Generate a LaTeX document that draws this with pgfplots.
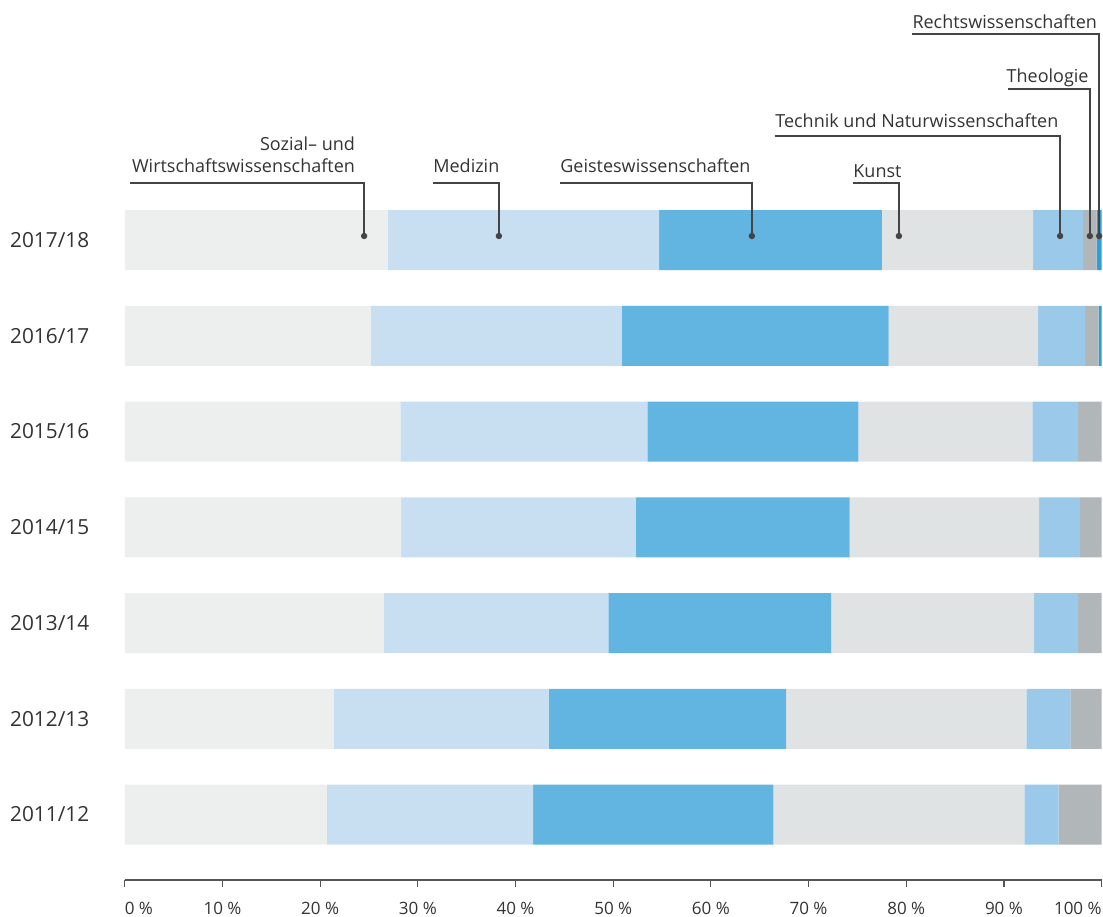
\documentclass[border=0pt]{standalone}
\usepackage{fontspec}
\setmainfont{Open Sans}
\usepackage{pgfplots}
\pgfplotsset{compat=1.18}
\usepackage{pgfplotstable}

\definecolor{cSoz}{HTML}{EDEFEE}
\definecolor{cMed}{HTML}{C8DFF2}
\definecolor{cGei}{HTML}{62B4E1}
\definecolor{cKun}{HTML}{DFE3E4}
\definecolor{cTec}{HTML}{9AC9EA}
\definecolor{cThe}{HTML}{B1B6B9}
\definecolor{cRec}{HTML}{2A9FD8}
\definecolor{txt}{HTML}{333333}
\definecolor{leadc}{HTML}{444444}
\definecolor{axgrey}{HTML}{555555}

\tikzset{
  leader/.style={draw=leadc, line width=0.75pt},
  dot/.style={fill=leadc},
  lbl/.style={inner sep=0pt, font=\fontsize{9}{11}\selectfont, text=txt},
}

% shares in percent, idx 0 = 2011/12 ... 6 = 2017/18
\pgfplotstableread{
idx soz  med  gei  kun  tec the rec
0   20.7 21.1 24.6 25.7 3.5 4.4 0
1   21.4 22.0 24.3 24.6 4.5 3.2 0
2   26.5 23.0 22.8 20.8 4.5 2.4 0
3   28.3 24.0 21.9 19.4 4.2 2.2 0
4   28.2 25.3 21.6 17.8 4.7 2.4 0
5   25.2 25.7 27.3 15.3 4.8 1.4 0.3
6   26.9 27.8 22.8 15.5 5.1 1.4 0.5
}\shares

\begin{document}
\begin{tikzpicture}
\begin{axis}[
    at={(62.4pt,-440pt)}, anchor=south west,
    scale only axis, width=488.4pt, height=343.93pt,
    xbar stacked, bar width=30pt,
    xmin=0, xmax=100, ymin=-0.684, ymax=6.5,
    axis lines*=left,
    y axis line style={draw=none},
    x axis line style={color=axgrey, line width=0.6pt},
    clip=false,
    xtick={0,10,...,100},
    xticklabels={\makebox[0pt][l]{0 \%},10 \%,20 \%,30 \%,40 \%,50 \%,60 \%,70 \%,80 \%,90 \%,\makebox[0pt][r]{100 \%}},
    tick align=outside,
    major tick length=3.5pt,
    tick style={color=axgrey, line width=0.6pt},
    ytick style={draw=none},
    xticklabel style={font=\fontsize{8.5}{10}\selectfont, text=txt, yshift=-4pt},
    ytick={0,...,6},
    yticklabels={2011/12,2012/13,2013/14,2014/15,2015/16,2016/17,2017/18},
    yticklabel style={anchor=west, inner sep=0pt, xshift=-54pt,
        font=\fontsize{10.4}{12}\selectfont, text=txt},
]
\addplot[fill=cSoz, draw=none] table[x=soz, y=idx] {\shares};
\addplot[fill=cMed, draw=none] table[x=med, y=idx] {\shares};
\addplot[fill=cGei, draw=none] table[x=gei, y=idx] {\shares};
\addplot[fill=cKun, draw=none] table[x=kun, y=idx] {\shares};
\addplot[fill=cTec, draw=none] table[x=tec, y=idx] {\shares};
\addplot[fill=cThe, draw=none] table[x=the, y=idx] {\shares};
\addplot[fill=cRec, draw=none] table[x=rec, y=idx] {\shares};

% leader line anchors (start of horizontal line, dot in the 2017/18 bar)
\coordinate (a1) at (axis cs:0.53,6.595);  \coordinate (b1) at (axis cs:24.5,6.042);
\coordinate (a2) at (axis cs:31.55,6.595); \coordinate (b2) at (axis cs:38.3,6.042);
\coordinate (a3) at (axis cs:44.55,6.595); \coordinate (b3) at (axis cs:64.2,6.042);
\coordinate (a4) at (axis cs:74.55,6.595); \coordinate (b4) at (axis cs:79.25,6.042);
\coordinate (a5) at (axis cs:66.56,7.086); \coordinate (b5) at (axis cs:95.75,6.042);
\coordinate (a6) at (axis cs:90.4,7.577);  \coordinate (b6) at (axis cs:98.8,6.042);
\coordinate (a7) at (axis cs:80.6,8.151);  \coordinate (b7) at (axis cs:99.75,6.042);

\node[lbl, anchor=base east] at (axis cs:23.6,6.94) {Sozial– und};
\node[lbl, anchor=base east] at (axis cs:23.6,6.70) {Wirtschaftswissenschaften};
\node[lbl, anchor=base west] at (axis cs:31.55,6.70) {Medizin};
\node[lbl, anchor=base west] at (axis cs:44.55,6.70) {Geisteswissenschaften};
\node[lbl, anchor=base west] at (axis cs:74.55,6.65) {Kunst};
\node[lbl, anchor=base west] at (axis cs:66.56,7.17) {Technik und Naturwissenschaften};
\node[lbl, anchor=base west] at (axis cs:90.24,7.64) {Theologie};
\node[lbl, anchor=base west] at (axis cs:80.6,8.214) {Rechtswissenschaften};
\end{axis}

\foreach \i in {1,...,7} {
  \draw[leader] (a\i) -| (b\i);
  \fill[dot] (b\i) circle[radius=1.6pt];
}

\pgfresetboundingbox
\path[use as bounding box] (0,0) rectangle (551.5pt,-458pt);
\end{tikzpicture}
\end{document}
